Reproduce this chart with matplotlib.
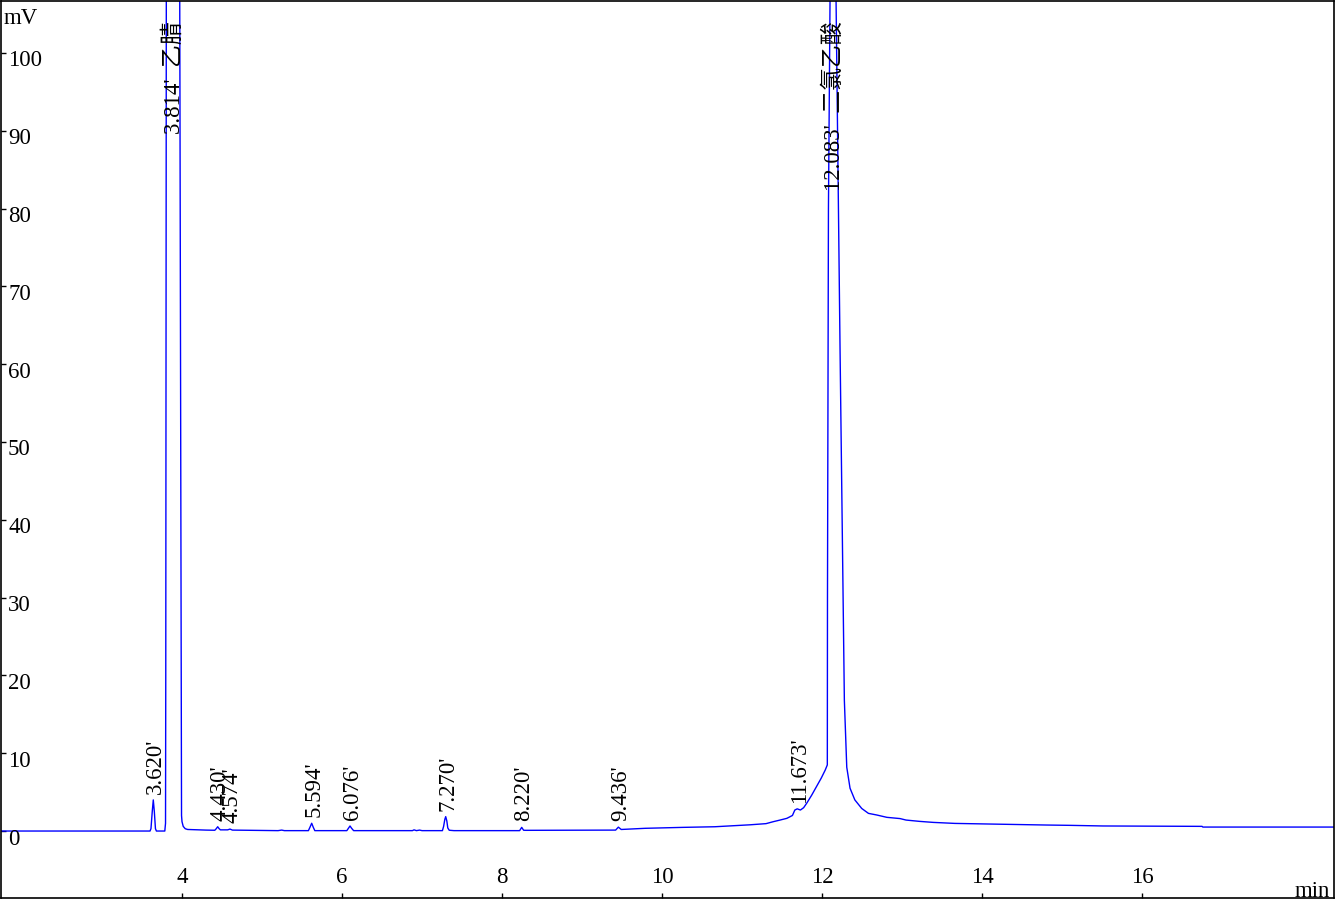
"""Chromatogram: 乙腈 / 二氯乙酸 run, signal in mV vs retention time in min."""
import matplotlib
matplotlib.use("Agg")
import matplotlib.pyplot as plt
import numpy as np

# trace (min, mV); the two big peaks run off scale
TIME = [1.70, 3.600, 3.612, 3.628, 3.641, 3.654, 3.668, 3.680,
        3.785, 3.794, 3.797, 3.804, 3.880, 3.971, 3.994, 4.000, 4.015, 4.040, 4.070,
        4.300, 4.410, 4.428, 4.446, 4.464, 4.480, 4.570, 4.600, 4.630,
        5.200, 5.246, 5.280, 5.580, 5.600, 5.621, 5.640, 5.660,
        6.060, 6.080, 6.100, 6.120, 6.145, 6.880, 6.900, 6.930, 6.970, 7.000,
        7.255, 7.270, 7.285, 7.296, 7.310, 7.322, 7.340, 7.400,
        8.220, 8.246, 8.270, 8.300, 9.420, 9.454, 9.490, 9.790, 10.260, 10.660,
        11.100, 11.300, 11.390, 11.475, 11.560, 11.600, 11.630, 11.660, 11.690,
        11.730, 11.770, 11.810, 11.870, 11.930, 11.990, 12.040, 12.066,
        12.068, 12.080, 12.100, 12.130, 12.175, 12.225, 12.279, 12.309,
        12.350, 12.410, 12.496, 12.580, 12.684, 12.810, 12.975, 13.050,
        13.220, 13.390, 13.660, 14.090, 14.810, 15.100, 15.510, 16.750,
        16.760, 18.500]
SIGNAL = [0.0, 0.0, 0.3, 2.5, 4.0, 2.5, 0.3, 0.0,
          0.0, 1.0, 20.0, 110.0, 600.0, 110.0, 2.0, 1.2, 0.6, 0.3, 0.2,
          0.12, 0.1, 0.3, 0.55, 0.3, 0.15, 0.15, 0.25, 0.12,
          0.05, 0.12, 0.05, 0.05, 0.5, 1.0, 0.5, 0.05,
          0.05, 0.35, 0.65, 0.35, 0.05, 0.05, 0.15, 0.05, 0.12, 0.05,
          0.05, 0.6, 1.5, 1.85, 1.3, 0.4, 0.1, 0.05,
          0.05, 0.47, 0.1, 0.09, 0.12, 0.5, 0.2, 0.35, 0.47, 0.55,
          0.8, 0.95, 1.2, 1.41, 1.63, 1.84, 2.0, 2.7, 2.85,
          2.7, 3.0, 3.6, 4.6, 5.7, 6.8, 7.84, 8.5,
          30.0, 80.0, 107.0, 700.0, 107.0, 62.0, 16.8, 8.2,
          5.5, 4.0, 2.9, 2.27, 2.06, 1.76, 1.6, 1.41,
          1.24, 1.11, 0.98, 0.9, 0.77, 0.73, 0.65, 0.6,
          0.51, 0.51]

PEAK_LABELS = ["3.620'", "3.814'  乙腈", "4.430'", "4.574'", "5.594'", "6.076'",
               "7.270'", "8.220'", "9.436'", "11.673'", "12.083'  二氯乙酸"]
PEAK_APEX = [3.641, 3.875, 4.446, 4.600, 5.621, 6.100,
             7.296, 8.246, 9.454, 11.690, 12.130]

XTICKS = [4, 6, 8, 10, 12, 14, 16]
YTICKS = [0, 10, 20, 30, 40, 50, 60, 70, 80, 90, 100]
XLIM = (1.7375, 18.4)
YLIM = (-8.61, 106.68)

FONT = ["Liberation Serif", "Noto Sans CJK SC", "DejaVu Sans"]
plt.rcParams["font.family"] = FONT
FS = 16.5

fig = plt.figure(figsize=(13.36, 9.0), dpi=100)
ax = fig.add_axes([0.00075, 0.0022, 0.9978, 0.9967])
ax.plot(TIME, SIGNAL, color="#0000ff", lw=1.0)
ax.set_xlim(*XLIM)
ax.set_ylim(*YLIM)

for s in ax.spines.values():
    s.set_linewidth(1.2)
    s.set_color("black")

ax.set_xticks(XTICKS)
ax.set_yticks(YTICKS)
ax.tick_params(axis="both", direction="in", length=3.6, width=1.0,
               labelbottom=False, labelleft=False)

# tick labels sit inside the frame, like the instrument software draws them
for y in YTICKS:
    ax.annotate(str(y), xy=(0, y), xycoords=("axes fraction", "data"),
                xytext=(7, -8), textcoords="offset pixels",
                ha="left", va="center", fontsize=FS)
for x in XTICKS:
    ax.annotate(str(x), xy=(x, 0), xycoords=("data", "axes fraction"),
                xytext=(0, 21), textcoords="offset pixels",
                ha="center", va="center", fontsize=FS)
ax.annotate("mV", xy=(0, 1), xycoords="axes fraction", xytext=(3, -18),
            textcoords="offset pixels", ha="left", va="center", fontsize=FS)
ax.annotate("min", xy=(1, 0), xycoords="axes fraction", xytext=(-4, 1),
            textcoords="offset pixels", ha="right", va="baseline", fontsize=FS)

# peak labels: rotated retention times above each apex; off-scale peaks hang from the top
for lab, t in zip(PEAK_LABELS, PEAK_APEX):
    h = np.interp(t, TIME, SIGNAL)
    if h > YLIM[1]:
        ax.annotate(lab, xy=(t, 1), xycoords=("data", "axes fraction"),
                    xytext=(2, -20), textcoords="offset pixels", rotation=90,
                    ha="center", va="top", fontsize=FS)
    else:
        ax.annotate(lab, xy=(t, h), xytext=(2, 6), textcoords="offset pixels",
                    rotation=90, ha="center", va="bottom", fontsize=FS)

fig.savefig("out.png", dpi=100)
